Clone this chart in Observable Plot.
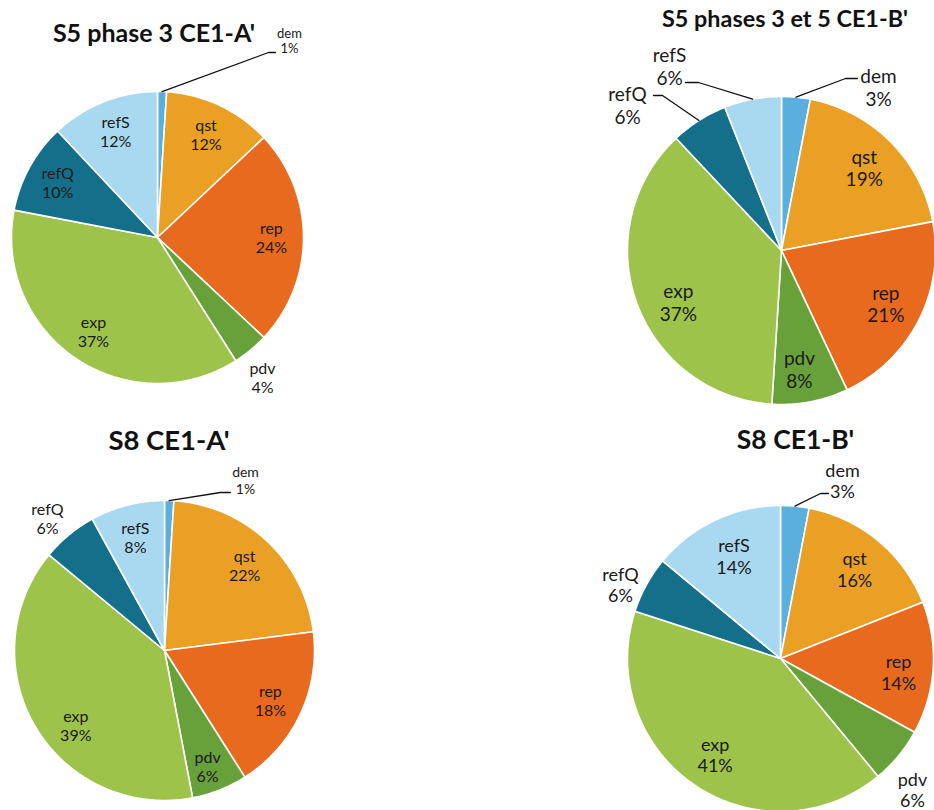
<!DOCTYPE html>
<html><head><meta charset="utf-8">
<script src="https://cdn.jsdelivr.net/npm/d3@7"></script>
<script src="https://cdn.jsdelivr.net/npm/@observablehq/plot@0.6"></script>
<style>
body{margin:0;background:#fff;}
#page{position:relative;width:934px;height:810px;overflow:hidden;font-family:Lato,"Open Sans",sans-serif;}
.cell{position:absolute;}
.title{position:absolute;font-weight:bold;white-space:nowrap;width:420px;text-align:center;line-height:1;color:#111;font-family:Lato,sans-serif;}
</style></head><body><div id="page"></div>
<script>
// ---- data ----
const categories = ["dem", "qst", "rep", "pdv", "exp", "refQ", "refS"];
const colors = ["#5aafdd", "#e9a024", "#e86a1f", "#68a03a", "#9dc34b", "#136f8a", "#a9d9f1"];
const titles = ["S5 phase 3 CE1-A'", "S5 phases 3 et 5 CE1-B'", "S8 CE1-A'", "S8 CE1-B'"];
const valuesS5A = [1, 12, 24, 4, 37, 10, 12];
const valuesS5B = [3, 19, 21, 8, 37, 6, 6];
const valuesS8A = [1, 22, 18, 6, 39, 6, 8];
const valuesS8B = [3, 16, 14, 6, 41, 6, 14];
const series = [valuesS5A, valuesS5B, valuesS8A, valuesS8B];

// ---- layout (page pixels) ----
const layouts = [
  {left: 0, top: 0, w: 467, h: 405, cx: 157, cy: 237, r: 146, k: 0.78, font: 16,
   title: {x: 154, base: 42, size: 25},
   adjust: {},
   outside: {dem: {dx: 132, dy: -197, font: 13, leader: [[111, -185], [118, -185]]},
             pdv: {dx: 105, dy: 140, font: 16}}},
  {left: 467, top: 0, w: 467, h: 405, cx: 781, cy: 250, r: 154, k: 0.76, font: 19,
   title: {x: 785, base: 28, size: 23.4},
   adjust: {exp: [7, 12], pdv: [-4, 4]},
   outside: {dem: {dx: 97, dy: -163, font: 19, leader: [[64, -172], [76, -172]]},
             refS: {dx: -112, dy: -184, font: 19, leader: [[-83, -168], [-96, -168]]},
             refQ: {dx: -154, dy: -145, font: 19, leader: [[-119, -155], [-128, -155]]}}},
  {left: 0, top: 405, w: 467, h: 405, cx: 164, cy: 650, r: 150, k: 0.78, font: 16,
   title: {x: 169, base: 450, size: 27.5},
   adjust: {exp: [12, 15], pdv: [0, 7]},
   outside: {dem: {dx: 81, dy: -170, font: 14, leader: [[56, -158], [66, -158]]},
             refQ: {dx: -117, dy: -132, font: 16}}},
  {left: 467, top: 405, w: 467, h: 405, cx: 780, cy: 658, r: 153, k: 0.76, font: 18,
   title: {x: 795.5, base: 450, size: 26.5},
   adjust: {refS: [3, 3], rep: [2, 6]},
   outside: {dem: {dx: 62, dy: -178, font: 18, leader: [[40, -165], [48, -165]]},
             refQ: {dx: -160, dy: -74, font: 18},
             pdv: {dx: 132, dy: 131, font: 18}}}
];

const page = document.getElementById("page");

series.forEach((values, i) => {
  const L = layouts[i];
  const r = L.r;
  const arcs = d3.pie().sort(null).value(d => d)(values);
  // slice polygons in unit coordinates (y up)
  const pts = [];
  arcs.forEach((a, j) => {
    const cat = categories[j];
    const n = Math.max(2, Math.ceil((a.endAngle - a.startAngle) / (Math.PI / 180)));
    pts.push({cat, x: 0, y: 0});
    for (let s = 0; s <= n; s++) {
      const t = a.startAngle + (a.endAngle - a.startAngle) * s / n;
      pts.push({cat, x: Math.sin(t), y: Math.cos(t)});
    }
    pts.push({cat, x: 0, y: 0});
  });
  // labels
  const labels = arcs.map((a, j) => {
    const cat = categories[j];
    const mid = (a.startAngle + a.endAngle) / 2;
    const o = L.outside[cat];
    const text = cat + "\n" + values[j] + "%";
    if (o) return {cat, text, x: o.dx / r, y: -o.dy / r, font: o.font};
    const [ax, ay] = L.adjust[cat] || [0, 0];
    return {cat, text, x: L.k * Math.sin(mid) + ax / r, y: L.k * Math.cos(mid) - ay / r, font: L.font};
  });
  // leaders
  const leaders = [];
  arcs.forEach((a, j) => {
    const cat = categories[j];
    const o = L.outside[cat];
    if (!o || !o.leader) return;
    const mid = (a.startAngle + a.endAngle) / 2;
    leaders.push({cat, x: Math.sin(mid), y: Math.cos(mid)});
    o.leader.forEach(([dx, dy]) => leaders.push({cat, x: dx / r, y: -dy / r}));
  });

  const chart = Plot.plot({
    width: L.w, height: L.h,
    margin: 0,
    style: {background: "transparent", overflow: "visible", fontFamily: "Lato, sans-serif"},
    x: {domain: [(L.left - L.cx) / r, (L.left + L.w - L.cx) / r], axis: null},
    y: {domain: [(L.cy - L.top - L.h) / r, (L.cy - L.top) / r], axis: null},
    color: {domain: categories, range: colors},
    marks: [
      Plot.line(pts, {x: "x", y: "y", z: "cat", fill: "cat", stroke: "#ffffff", strokeWidth: 1.6, strokeLinejoin: "round"}),
      Plot.line(leaders, {x: "x", y: "y", z: "cat", stroke: "#111", strokeWidth: 1.3}),
      Plot.text(labels, {x: "x", y: "y", text: "text", fontSize: "font", lineHeight: 1.2, fill: "#1a1a1a"})
    ]
  });
  const cell = document.createElement("div");
  cell.className = "cell";
  cell.style.left = L.left + "px";
  cell.style.top = L.top + "px";
  cell.appendChild(chart);
  page.appendChild(cell);

  const t = document.createElement("div");
  t.className = "title";
  t.textContent = titles[i];
  t.style.fontSize = L.title.size + "px";
  t.style.left = (L.title.x - 210) + "px";
  t.style.top = (L.title.base - 0.887 * L.title.size) + "px";
  page.appendChild(t);
});
</script>
</body></html>
